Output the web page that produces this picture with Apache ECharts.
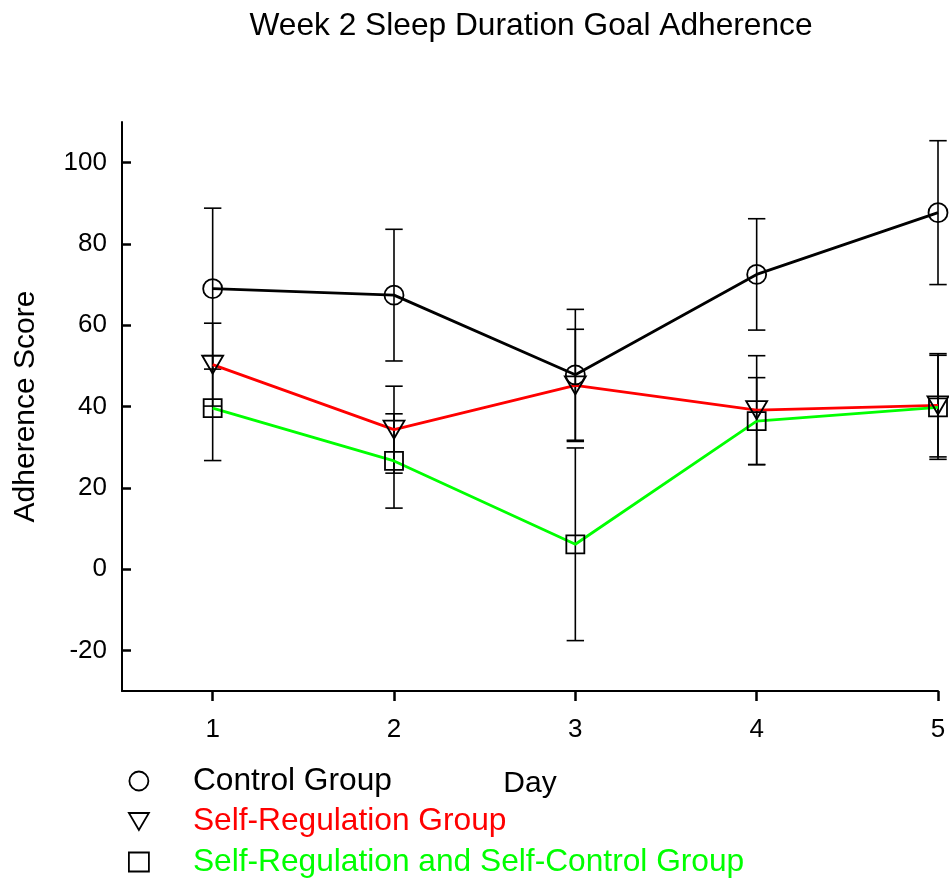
<!DOCTYPE html>
<html><head><meta charset="utf-8">
<script src="https://cdn.jsdelivr.net/npm/echarts@6/dist/echarts.min.js"></script>
<style>html,body{margin:0;padding:0;background:#fff}#chart{width:949px;height:878px}</style>
</head><body><div id="chart"></div>
<script>
const days = [1, 2, 3, 4, 5];
const xTicks = [1, 2, 3, 4, 5];
const yTicks = [-20, 0, 20, 40, 60, 80, 100];
const groupNames = ['Control Group', 'Self-Regulation Group', 'Self-Regulation and Self-Control Group'];
const controlMean = [69.0, 67.4, 47.8, 72.5, 87.7];
const controlErr  = [19.8, 16.2, 16.1, 13.7, 17.7];
const srMean      = [50.3, 34.3, 45.2, 39.1, 40.3];
const srErr       = [10.2, 10.7, 13.8, 13.4, 12.7];
const srscMean    = [39.6, 26.6, 6.1, 36.4, 39.8];
const srscErr     = [12.9, 11.6, 23.7, 10.7, 12.8];

const FONT = "'Liberation Sans', Arial, Helvetica, sans-serif";
const triDown = 'path://M0,0L20,0L10,17Z';
const markerStyle = {color: 'rgba(0,0,0,0)', borderColor: '#000', borderWidth: 1.8};

function pts(mean) { return days.map((d, i) => [d, mean[i]]); }
function errData(mean, err) { return days.map((d, i) => [d, mean[i] - err[i], mean[i] + err[i]]); }

function errRender(params, api) {
  const x = api.value(0), lo = api.value(1), hi = api.value(2);
  const pLo = api.coord([x, lo]), pHi = api.coord([x, hi]);
  const hw = 8.7;
  const style = {stroke: '#000', lineWidth: 1.6, fill: null};
  return {type: 'group', children: [
    {type: 'line', shape: {x1: pLo[0], y1: pLo[1], x2: pHi[0], y2: pHi[1]}, style: style},
    {type: 'line', shape: {x1: pHi[0] - hw, y1: pHi[1], x2: pHi[0] + hw, y2: pHi[1]}, style: style},
    {type: 'line', shape: {x1: pLo[0] - hw, y1: pLo[1], x2: pLo[0] + hw, y2: pLo[1]}, style: style}
  ]};
}
function errSeries(mean, err) {
  return {type: 'custom', renderItem: errRender, data: errData(mean, err), encode: {x: 0, y: [1, 2]}, z: 1, silent: true};
}
function lineSeries(name, mean, color, symbol, size) {
  return {type: 'line', name: name, data: pts(mean), symbol: symbol, symbolSize: size,
    lineStyle: {color: color, width: 2.8}, itemStyle: markerStyle, z: 3, silent: true};
}

const chart = echarts.init(document.getElementById('chart'), null, {renderer: 'canvas'});
chart.setOption({
  animation: false,
  backgroundColor: '#fff',
  title: {
    text: 'Week 2 Sleep Duration Goal Adherence',
    left: 531, textAlign: 'center', top: 10, padding: 0,
    textStyle: {fontFamily: FONT, fontSize: 31.7, fontWeight: 'normal', color: '#000'}
  },
  grid: {left: 122, right: 11, top: 122, bottom: 187, containLabel: false, outerBoundsMode: 'none'},
  legend: {
    orient: 'vertical', left: 128, top: 765, itemWidth: 20, itemHeight: 19, itemGap: 8.5,
    padding: 0, selectedMode: false,
    textStyle: {fontFamily: FONT, fontSize: 31.7, padding: [0, 0, 0, 39]},
    data: [
      {name: groupNames[0], icon: 'circle', itemStyle: markerStyle, textStyle: {color: '#000000'}},
      {name: groupNames[1], icon: triDown, itemStyle: markerStyle, textStyle: {color: '#ff0000'}},
      {name: groupNames[2], icon: 'rect', itemStyle: markerStyle, textStyle: {color: '#00ff00'}}
    ]
  },
  xAxis: {
    type: 'value', min: 0.5, max: 5,
    name: 'Day', nameLocation: 'middle', nameGap: 78,
    nameTextStyle: {fontFamily: FONT, fontSize: 30, color: '#000'},
    axisLine: {show: true, onZero: false, lineStyle: {color: '#000', width: 2}},
    axisTick: {show: true, inside: false, length: 10, lineStyle: {color: '#000', width: 2.5}, customValues: xTicks},
    axisLabel: {customValues: xTicks, margin: 26, fontFamily: FONT, fontSize: 26, color: '#000'},
    splitLine: {show: false}
  },
  yAxis: {
    type: 'value', min: -30, max: 110,
    name: 'Adherence Score', nameLocation: 'middle', nameGap: 81,
    nameTextStyle: {fontFamily: FONT, fontSize: 30, color: '#000'},
    axisLine: {show: true, onZero: false, lineStyle: {color: '#000', width: 2}},
    axisTick: {show: true, inside: true, length: 9, lineStyle: {color: '#000', width: 2.5}, customValues: yTicks},
    axisLabel: {customValues: yTicks, margin: 15, fontFamily: FONT, fontSize: 26, color: '#000'},
    splitLine: {show: false}
  },
  series: [
    errSeries(controlMean, controlErr),
    errSeries(srMean, srErr),
    errSeries(srscMean, srscErr),
    lineSeries(groupNames[0], controlMean, '#000000', 'circle', 19),
    lineSeries(groupNames[1], srMean, '#ff0000', triDown, [21, 18]),
    lineSeries(groupNames[2], srscMean, '#00ff00', 'rect', 18)
  ]
});
</script>
</body></html>
